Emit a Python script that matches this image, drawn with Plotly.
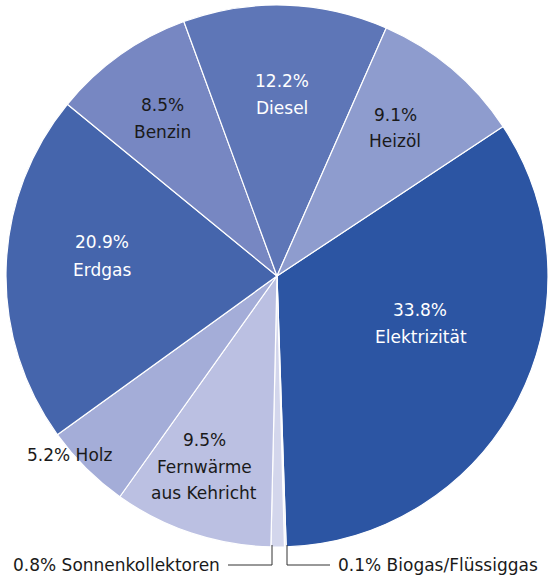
import plotly.graph_objects as go

labels = ["Elektrizität", "Biogas/Flüssiggas", "Sonnenkollektoren", "Fernwärme aus Kehricht",
          "Holz", "Erdgas", "Benzin", "Diesel", "Heizöl"]
values = [33.8, 0.1, 0.8, 9.5, 5.2, 20.9, 8.5, 12.2, 9.1]
colors = ["#2C55A3", "#E1E3F2", "#D3D6EC", "#BBC0E2", "#A4ADD8",
          "#4565AC", "#7787C2", "#5E76B7", "#8E9CCE"]

W, H = 552, 576

fig = go.Figure(go.Pie(
    labels=labels, values=values, sort=False, direction="clockwise", rotation=56.5,
    marker=dict(colors=colors, line=dict(color="white", width=1.2)),
    textinfo="none", hoverinfo="label+percent", showlegend=False,
    domain=dict(x=[6 / W, 548 / W], y=[(H - 547) / H, (H - 5) / H]),
))

FONT = "DejaVu Sans, sans-serif"
FS = 17


def pct(v):
    return f"{v:.1f}%"


def ann(text, x, y, color, xanchor="center"):
    fig.add_annotation(text=text, x=x / W, y=1 - y / H, xref="paper", yref="paper",
                       showarrow=False, xanchor=xanchor, yanchor="middle",
                       font=dict(family=FONT, size=FS, color=color))


WHITE = "#FFFFFF"
DARK = "#1A1A1A"

ann(pct(values[0]), 420, 310, WHITE)
ann(labels[0], 421, 337, WHITE)
ann(pct(values[5]), 102, 242, WHITE)
ann(labels[5], 102, 270, WHITE)
ann(pct(values[6]), 162, 105, DARK)
ann(labels[6], 162, 132, DARK)
ann(pct(values[7]), 282, 81, WHITE)
ann(labels[7], 282, 108, WHITE)
ann(pct(values[8]), 395, 115, DARK)
ann(labels[8], 395, 141, DARK)
fw = labels[3].split(" ", 1)
ann(pct(values[3]), 204, 440, DARK)
ann(fw[0], 204, 467, DARK)
ann(fw[1], 204, 493, DARK)
ann(f"{pct(values[4])} {labels[4]}", 25, 455, DARK, xanchor="left")
ann(f"{pct(values[2])} {labels[2]}", 222, 565, DARK, xanchor="right")
ann(f"{pct(values[1])} {labels[1]}", 336, 565, DARK, xanchor="left")

LC = "#333333"
for pts in ([(228, 565), (272, 565), (272, 545)], [(287, 545), (287, 565), (330, 565)]):
    path = "M " + " L ".join(f"{x / W},{1 - y / H}" for x, y in pts)
    fig.add_shape(type="path", path=path, xref="paper", yref="paper",
                  line=dict(color=LC, width=1))

fig.update_layout(width=W, height=H, margin=dict(l=0, r=0, t=0, b=0),
                  paper_bgcolor="white", plot_bgcolor="white")

fig.write_html("out.html")
